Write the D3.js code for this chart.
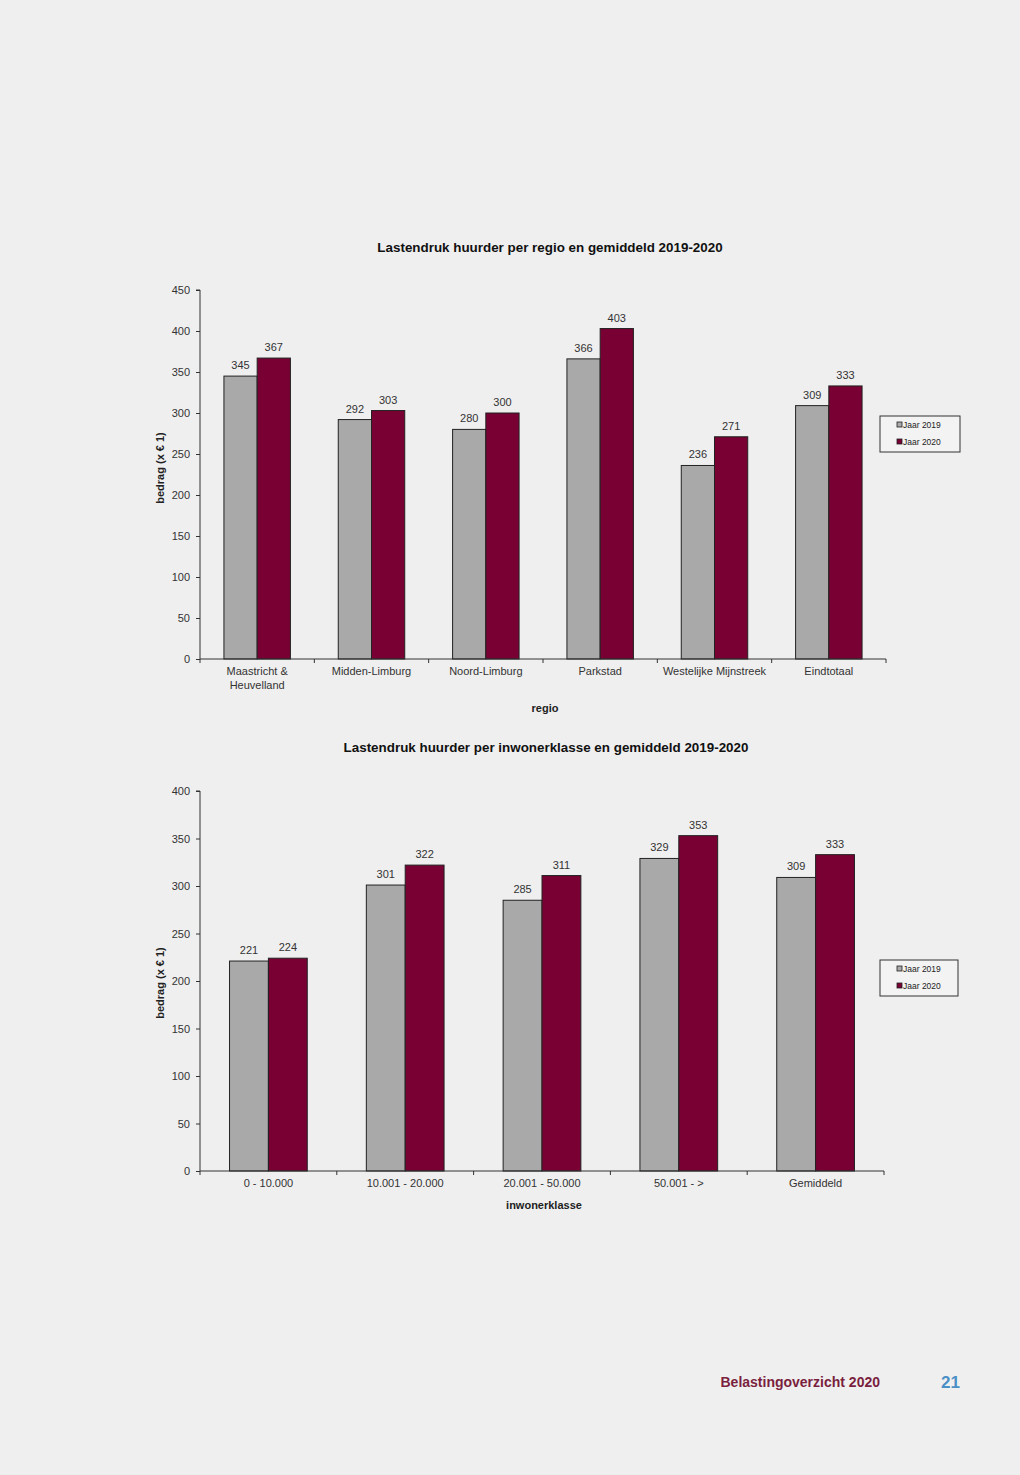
<!DOCTYPE html>
<html>
<head>
<meta charset="utf-8">
<script src="https://cdn.jsdelivr.net/npm/d3@7"></script>
<style>
  html, body { margin: 0; padding: 0; background: #efefef; }
  svg { display: block; font-family: "Liberation Sans", Arial, sans-serif; }
  .axis text { font-size: 11px; fill: #333; }
  .axis path, .axis line { stroke: #333; }
  .title { font-size: 13.4px; font-weight: bold; fill: #111; }
  .value { font-size: 11px; fill: #333; text-anchor: middle; }
  .label { font-size: 11px; font-weight: bold; fill: #222; }
</style>
</head>
<body>
<svg id="page"></svg>
<script>
const series = ['Jaar 2019', 'Jaar 2020'];

const regioCategories = ['Maastricht &\nHeuvelland', 'Midden-Limburg', 'Noord-Limburg', 'Parkstad', 'Westelijke Mijnstreek', 'Eindtotaal'];
const regio2019 = [345, 292, 280, 366, 236, 309];
const regio2020 = [367, 303, 300, 403, 271, 333];
const regioTicks = [0, 50, 100, 150, 200, 250, 300, 350, 400, 450];

const klasseCategories = ['0 - 10.000', '10.001 - 20.000', '20.001 - 50.000', '50.001 - >', 'Gemiddeld'];
const klasse2019 = [221, 301, 285, 329, 309];
const klasse2020 = [224, 322, 311, 353, 333];
const klasseTicks = [0, 50, 100, 150, 200, 250, 300, 350, 400];

const colors = ['#a9a9a9', '#780032'];

const width = 1020, height = 1475;
const svg = d3.select('#page').attr('width', width).attr('height', height);

const drawChart = (cfg) => {
  const { categories, values, ticks, top, bottom, left, right, title, titleX, titleY, xLabel, xLabelY, yLabelY, legend, outer } = cfg;

  const x0 = d3.scaleBand().domain(categories).range([left, right]).padding(0);
  const x1 = d3.scaleBand().domain(series).range([0, x0.bandwidth()]).paddingInner(0).paddingOuter(outer);
  const y = d3.scaleLinear().domain([0, d3.max(ticks)]).range([bottom, top]);

  const g = svg.append('g');

  g.append('text').attr('class', 'title')
    .attr('x', titleX).attr('y', titleY)
    .attr('text-anchor', 'middle')
    .text(title);

  // bars
  const rows = categories.map((c, i) => ({ c, v: values.map(s => s[i]) }));
  const grp = g.selectAll('g.grp').data(rows).enter().append('g')
    .attr('class', 'grp')
    .attr('transform', d => `translate(${x0(d.c)},0)`);

  const cells = d => d.v.map((v, k) => ({ s: series[k], v, k }));

  grp.selectAll('rect').data(cells)
    .enter().append('rect')
    .attr('x', d => x1(d.s))
    .attr('y', d => y(d.v))
    .attr('width', x1.bandwidth())
    .attr('height', d => y(0) - y(d.v))
    .attr('fill', d => colors[d.k])
    .attr('stroke', '#222')
    .attr('stroke-width', 1);

  grp.selectAll('text.value').data(cells)
    .enter().append('text')
    .attr('class', 'value')
    .attr('x', d => x1(d.s) + x1.bandwidth() / 2)
    .attr('y', d => y(d.v) - 7)
    .text(d => d.v);

  // y axis
  const yAxis = d3.axisLeft(y).tickValues(ticks).tickSize(4).tickPadding(6);
  g.append('g').attr('class', 'axis')
    .attr('transform', `translate(${left},0)`)
    .call(yAxis)
    .call(a => a.select('.domain').attr('d', `M-4,${top}H0V${bottom}`));

  // x axis: ticks between categories
  const xa = g.append('g').attr('class', 'axis');
  xa.append('line').attr('x1', left).attr('x2', right).attr('y1', bottom).attr('y2', bottom)
    .attr('stroke', '#333');
  const bounds = categories.map(c => x0(c)).concat([right]);
  xa.selectAll('line.tk').data(bounds).enter().append('line')
    .attr('class', 'tk')
    .attr('x1', d => d).attr('x2', d => d)
    .attr('y1', bottom).attr('y2', bottom + 4)
    .attr('stroke', '#333');
  const lbl = xa.selectAll('text.cat').data(categories).enter().append('text')
    .attr('class', 'cat')
    .attr('text-anchor', 'middle')
    .attr('x', d => x0(d) + x0.bandwidth() / 2)
    .attr('y', bottom + 16);
  lbl.selectAll('tspan').data(d => d.split('\n')).enter().append('tspan')
    .attr('x', function () { return d3.select(this.parentNode).attr('x'); })
    .attr('dy', (d, i) => i === 0 ? 0 : 14)
    .text(d => d);

  g.append('text').attr('class', 'label')
    .attr('x', left + (right - left) / 2 + 2).attr('y', xLabelY)
    .attr('text-anchor', 'middle')
    .text(xLabel);

  g.append('text').attr('class', 'label')
    .attr('transform', `translate(${left - 36},${yLabelY}) rotate(-90)`)
    .attr('text-anchor', 'middle')
    .text('bedrag (x € 1)');

  // legend
  const lg = g.append('g').attr('transform', `translate(${legend.x},${legend.y})`);
  lg.append('rect').attr('width', legend.w).attr('height', legend.h)
    .attr('fill', '#f3f3f3').attr('stroke', '#333').attr('stroke-width', 1);
  series.forEach((s, k) => {
    lg.append('rect')
      .attr('x', 17).attr('y', 6 + k * 17)
      .attr('width', 5).attr('height', 5)
      .attr('fill', colors[k]).attr('stroke', '#222').attr('stroke-width', 0.8);
    lg.append('text')
      .attr('x', 23).attr('y', 11.5 + k * 17)
      .attr('font-size', 8.5).attr('fill', '#222')
      .text(s);
  });
};

drawChart({
  categories: regioCategories,
  values: [regio2019, regio2020],
  ticks: regioTicks,
  top: 290, bottom: 659, left: 200, right: 886, outer: 0.72,
  title: 'Lastendruk huurder per regio en gemiddeld 2019-2020',
  titleX: 550, titleY: 252,
  xLabel: 'regio', xLabelY: 712, yLabelY: 468,
  legend: { x: 880, y: 416, w: 80, h: 36 }
});

drawChart({
  categories: klasseCategories,
  values: [klasse2019, klasse2020],
  ticks: klasseTicks,
  top: 791, bottom: 1171, left: 200, right: 884, outer: 0.76,
  title: 'Lastendruk huurder per inwonerklasse en gemiddeld 2019-2020',
  titleX: 546, titleY: 752,
  xLabel: 'inwonerklasse', xLabelY: 1209, yLabelY: 983,
  legend: { x: 880, y: 960, w: 78, h: 36 }
});

// footer
svg.append('text')
  .attr('x', 880).attr('y', 1387)
  .attr('text-anchor', 'end')
  .attr('font-size', 14).attr('font-weight', 'bold').attr('fill', '#7a1f3e')
  .text('Belastingoverzicht 2020');
svg.append('text')
  .attr('x', 960).attr('y', 1388)
  .attr('text-anchor', 'end')
  .attr('font-size', 17).attr('font-weight', 'bold').attr('fill', '#4a8fc6')
  .text('21');
</script>
</body>
</html>
